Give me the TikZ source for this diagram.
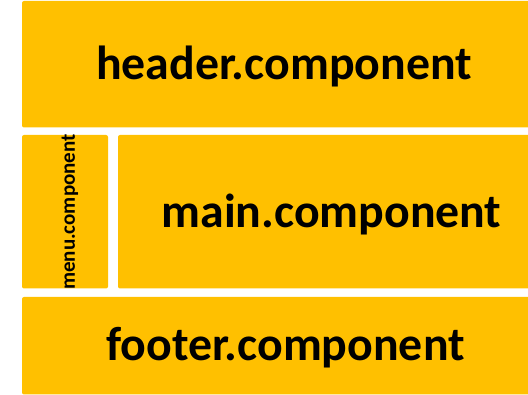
\documentclass[tikz,border=0pt]{standalone}
\usepackage{fontspec}
\setmainfont{Carlito}
\definecolor{gold}{HTML}{FFC000}
\tikzset{
  blk/.style={fill=gold, draw=none, rounded corners=2pt},
  big/.style={font=\bfseries\fontsize{47.8}{50}\selectfont, text=black},
  small/.style={font=\bfseries\fontsize{21}{22}\selectfont, text=black, rotate=90}
}
\begin{document}
\begin{tikzpicture}[x=1pt,y=-1pt]
\useasboundingbox (0,0) rectangle (528,395);
\begin{scope}
\clip (0,0) rectangle (528,395);
\fill[blk] (22,1) rectangle (548,127.5);
\fill[blk] (22,135) rectangle (108,288.5);
\fill[blk] (118,135) rectangle (548,288.5);
\fill[blk] (22,297) rectangle (548,394.5);
\end{scope}
\node[big] (header) at (284,66) {header.component};
\node[big] (main) at (331.5,214) {main.component};
\node[big] (footer) at (285.5,348) {footer.component};
\node[small] (menu) at (70,212) {menu.component};
\end{tikzpicture}
\end{document}
